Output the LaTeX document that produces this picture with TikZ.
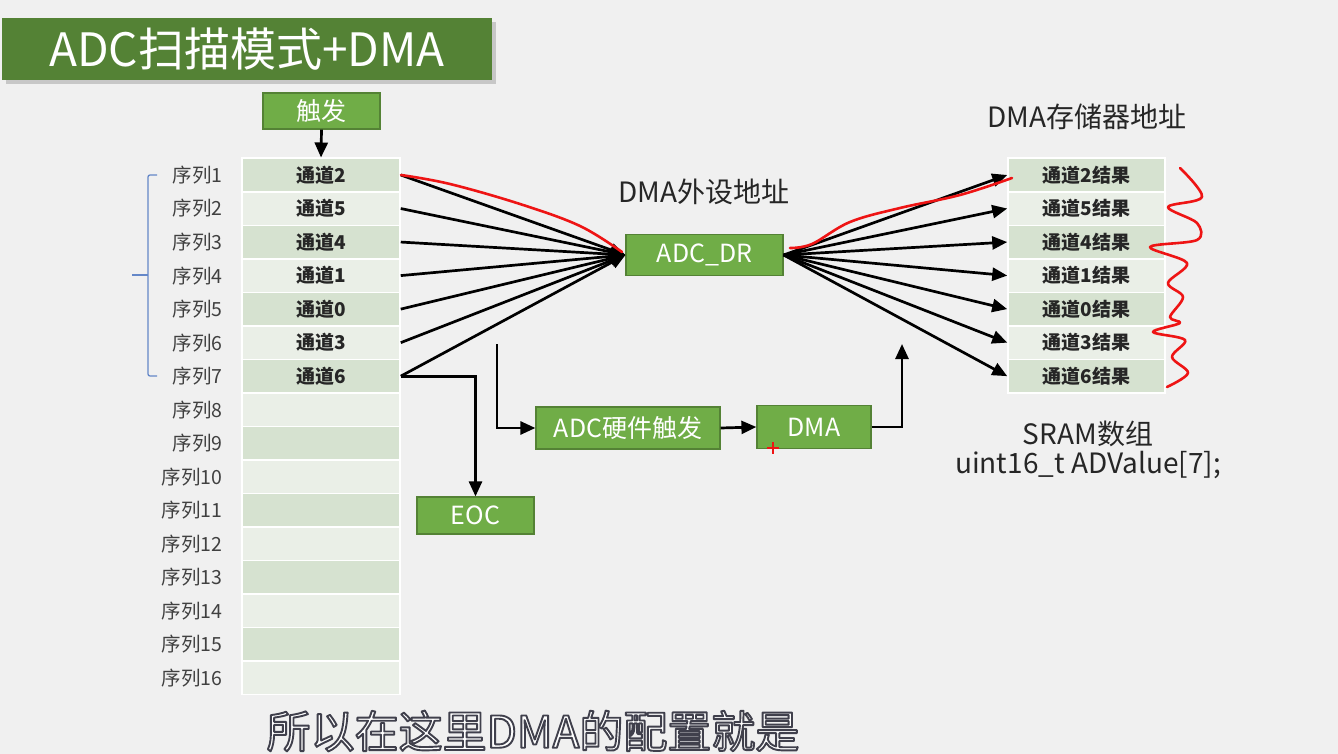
\documentclass[tikz,border=0pt]{standalone}
\usepackage{fontspec}
\setmainfont{Noto Sans CJK SC}
\usetikzlibrary{arrows.meta,calc}
\definecolor{bg}{RGB}{240,240,240}
\definecolor{titlegreen}{RGB}{84,130,53}
\definecolor{boxgreen}{RGB}{112,173,71}
\definecolor{boxedge}{RGB}{84,130,53}
\definecolor{rowdark}{RGB}{214,226,208}
\definecolor{rowlight}{RGB}{234,239,231}
\definecolor{bracecol}{RGB}{100,135,200}
\definecolor{labelgray}{RGB}{64,64,64}
\definecolor{annot}{RGB}{238,20,20}
\newcommand{\outlinedtext}[1]{\special{pdf:literal direct 2 Tr 1.9 w 1 J 1 j 0.25 0.25 0.3 RG}#1\special{pdf:literal direct 0 Tr}}
\tikzset{
  gbox/.style={draw=boxedge, line width=1.2pt, fill=boxgreen, text=white,
    font=\fontsize{25}{28}\selectfont, inner sep=0pt},
  cell/.style={draw=white, line width=1.5pt, minimum width=158pt,
    minimum height=33.5pt, inner sep=0pt,
    font=\fontsize{19}{22}\selectfont\bfseries, text=black!85},
  seqlabel/.style={anchor=east, font=\fontsize{19.5}{22}\selectfont, text=labelgray},
  heading/.style={font=\fontsize{28}{31}\selectfont, text=black!85},
  arr/.style={line width=2.7pt, -{Triangle[length=15pt,width=13pt]}},
  redpen/.style={annot, line width=2.6pt, line cap=round, line join=round},
  subfont/.style={font=\fontsize{44}{48}\selectfont}
}
\begin{document}
\begin{tikzpicture}[x=1pt,y=-1pt]
\path[use as bounding box, fill=bg] (0,0) rectangle (1338,754);

% title
\fill[black!22] (6,22) rectangle (496,84);
\node[fill=titlegreen, minimum width=490pt, minimum height=62pt, inner sep=0pt,
  text=white, font=\fontsize{46}{50}\selectfont] (title) at (247,49) {ADC扫描模式+DMA};

% trigger
\node[gbox, minimum width=117pt, minimum height=36pt] (trig) at (321.5,111) {触发};

% sequence table
\foreach \i in {1,...,16}{
  \pgfmathsetmacro{\yy}{175+(\i-1)*33.53}
  \ifodd\i
    \node[cell, fill=rowdark] (c\i) at (321,\yy) {};
  \else
    \node[cell, fill=rowlight] (c\i) at (321,\yy) {};
  \fi
  \node[seqlabel] (s\i) at (226,\yy) {序列\i};
}
\foreach \i/\t in {1/2,2/5,3/4,4/1,5/0,6/3,7/6}{
  \node[font=\fontsize{19}{22}\selectfont\bfseries, text=black!85] (ct\i) at (c\i) {通道\t};
}
\draw[arr] (trig.south) -- (c1.north);

% brace
\draw[bracecol, line width=1.3pt, rounded corners=2pt] (157,175) -- (148,175) -- (148,376) -- (157,376);
\draw[bracecol, line width=1.3pt] (148,275) -- (132,275);

% ADC_DR
\node[heading] (periph) at (704,192) {DMA外设地址};
\node[gbox, minimum width=157pt, minimum height=41pt] (dr) at (704.5,255) {ADC\_DR};
\foreach \i in {1,...,7}{
  \draw[arr] (c\i.east) -- (dr.west);
}

% results
\node[heading] (mem) at (1087,117) {DMA存储器地址};
\foreach \i/\t in {1/2,2/5,3/4,4/1,5/0,6/3,7/6}{
  \pgfmathsetmacro{\yy}{175+(\i-1)*33.53}
  \ifodd\i
    \node[cell, fill=rowdark, minimum width=157pt] (r\i) at (1086.5,\yy) {通道\t 结果};
  \else
    \node[cell, fill=rowlight, minimum width=157pt] (r\i) at (1086.5,\yy) {通道\t 结果};
  \fi
  \draw[arr] (dr.east) -- (r\i.west);
}
\node[heading, align=center] (sram) at (1088,450) {SRAM数组\\[-2pt]uint16\_t ADValue[7];};

% lower flow
\node[gbox, minimum width=117pt, minimum height=37pt] (eoc) at (475.5,515.5) {EOC};
\node[gbox, minimum width=184pt, minimum height=42pt] (hw) at (628,428) {ADC硬件触发};
\node[gbox, minimum width=114pt, minimum height=43pt] (dma) at (814,427) {DMA};
\draw[arr] (c7.east) -| (eoc.north);
\coordinate (hwstart) at (497,344);
\draw[arr] (hwstart) |- (hw.west);
\draw[arr] (hw.east) -- (dma.west);
\coordinate (dmaup) at (902,344);
\draw[arr] (dma.east) -| (dmaup);

% red annotations
\draw[redpen] plot[smooth, tension=0.6] coordinates {(401,175) (450,184) (520,204) (580,226) (622,252)};
\draw[redpen] plot[smooth, tension=0.6] coordinates {(790,248) (812,244) (850,222) (900,208) (960,195) (1012,178)};
\draw[redpen] plot[smooth, tension=0.55] coordinates {(1180,168) (1202,197) (1168,207) (1197,223) (1197,240) (1150,247) (1187,263) (1168,283) (1183,297) (1170,317) (1180,323) (1153,332) (1185,340) (1172,357) (1188,373) (1167,387)};
\draw[annot, line width=1.8pt] (767,448) -- (779,448) (773,442) -- (773,454);

% subtitle with outline
\node[subfont, text=white] (sub) at (533,731) {\outlinedtext{所以在这里DMA的配置就是}};
\end{tikzpicture}
\end{document}
